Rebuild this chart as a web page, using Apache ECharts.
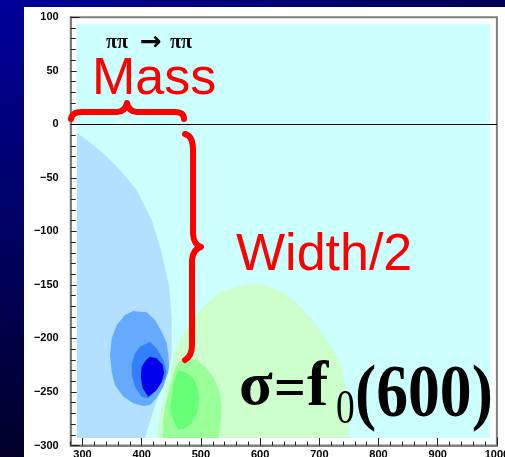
<!DOCTYPE html>
<html><head><meta charset="utf-8">
<script src="https://cdn.jsdelivr.net/npm/echarts@6/dist/echarts.min.js"></script>
<style>html,body{margin:0;padding:0;}#c{width:505px;height:457px;}</style>
</head><body><div id="c"></div>
<script>
// ---- axis ranges ----
const xRange = [280, 1000];
const yRange = [-300, 100];
const yInterval = 50;

// ---- contour regions (x = mass, y = -width/2) ----
const cyanRegion = [[290,-293],[988,-293],[988,94],[290,94]];
const lightBlue = [[290.6,-7.8],[307,-14.6],[334.6,-26.8],[363.3,-42.6],[391.5,-61.3],[416.9,-89.3],[433.7,-120.2],[446.6,-151.6],[450.6,-182.7],[450.6,-213.6],[444.4,-231.3],[435.9,-245.3],[425.8,-257.5],[417.4,-271.5],[410.6,-283.7],[405.5,-293],[290.6,-293]];
const midBlue = [[385.8,-174.3],[408.4,-175.6],[422.4,-182.8],[433.7,-193.7],[442.2,-204.5],[444.9,-215.4],[446.1,-226.4],[444.9,-231],[436.4,-245.1],[428,-252.8],[419.6,-259.1],[414,-262.2],[402.7,-263.1],[385.8,-260.6],[368.9,-254.4],[354.8,-243.5],[349.3,-231],[346.4,-215.4],[349.3,-199.8],[357.7,-187.4],[371.7,-178.1]];
const deepBlue = [[397.1,-207.7],[414,-203],[425.3,-209.2],[436.4,-220.1],[442.2,-231],[439.3,-237.2],[430.9,-243.5],[419.6,-251.2],[411.1,-255.9],[400,-254.4],[388.6,-245.1],[383.1,-234.1],[383.1,-224.8],[388.6,-213.9]];
const darkBlue = [[414,-217],[425.3,-218.5],[435.4,-224.8],[437.6,-232.5],[433.7,-240.4],[425.3,-248.1],[411.1,-254.4],[401.6,-246.6],[398.3,-235.7],[400,-226.4],[407.2,-220.1]];
const lightGreen = [[532,-157],[560,-152],[585,-149],[610,-150],[640,-157],[662,-167],[690,-184],[713,-202],[735,-222],[746,-250],[750,-275],[751,-293],[426.3,-293],[428,-279.2],[433.7,-263.7],[442.2,-248.1],[450.6,-226.4],[456.2,-210.8],[464.7,-201.4],[481.6,-185.8],[504,-170.3]];
const midGreen = [[473.1,-218.5],[492.9,-220.1],[509.8,-227.9],[523.8,-238.8],[532.2,-251.2],[535.1,-263.7],[533.9,-276.2],[529.4,-293],[435.4,-293],[436.4,-276.2],[439.3,-263.7],[444.9,-251.2],[450.6,-238.8],[456.2,-227.9],[464.7,-220.8]];
const brightGreen = [[461.8,-229.5],[476,-232.5],[487.1,-237.2],[495.6,-248.1],[497.3,-257.5],[492.9,-269.9],[484.4,-279.2],[473.1,-283.9],[461.8,-285.5],[453.3,-276.2],[447.7,-265.2],[450.6,-254.4],[453.3,-241.9]];

const regions = [
  [cyanRegion, '#ccffff'],
  [lightBlue, '#b3e0ff'],
  [midBlue, '#66aaff'],
  [deepBlue, '#3380ff'],
  [darkBlue, '#0000ee'],
  [lightGreen, '#ccffcc'],
  [midGreen, '#99ff99'],
  [brightGreen, '#66ff77']
];

function polySeries(pts, color) {
  return {
    type: 'custom', silent: true, clip: true,
    data: pts, encode: {x: 0, y: 1},
    renderItem: function (params, api) {
      if (params.dataIndex !== 0) return;
      const points = pts.map(p => api.coord(p));
      return {type: 'polygon', shape: {points: points}, style: {fill: color}};
    }
  };
}

const red = '#ff0000';
const series = regions.map(r => polySeries(r[0], r[1]));
series.push({
  type: 'line', data: [], silent: true,
  markLine: {silent: true, symbol: 'none', label: {show: false},
    lineStyle: {color: '#000', width: 1, type: 'solid'},
    data: [{yAxis: 0}]}
});
// red braces (annotation, drawn in pixel space)
const bracePaths = [
  'M71 119 Q72 112 82 112 L117 112 Q125 112 127 103 Q129 112 137 112 L175 112 Q184 112 184 119',
  'M185 134 Q193 136 193 150 L193 234 Q194 245 201 247 Q193 249 192 260 L192 345 Q192 356 185 360'
];
series.push({
  type: 'custom', silent: true, clip: false, z: 5,
  data: [[0, 0]],
  renderItem: function () {
    return {type: 'group', children: bracePaths.map(d => ({
      type: 'path', shape: {pathData: d},
      style: {fill: 'none', stroke: red, lineWidth: 6, lineCap: 'round', lineJoin: 'round'}
    }))};
  }
});

const chart = echarts.init(document.getElementById('c'), null, {renderer: 'canvas'});
const lblFont = {fontFamily: 'Liberation Sans, Arial, sans-serif', fontWeight: 'bold', fontSize: 11, color: '#000'};
chart.setOption({
  animation: false,
  backgroundColor: {type: 'linear', x: 0, y: 0, x2: 250, y2: 457, global: true,
    colorStops: [{offset: 0, color: '#00009c'}, {offset: 1, color: '#000008'}]},
  grid: {left: 70.7, top: 17.3, right: 8.1, bottom: 11.5, show: true, backgroundColor: '#fff',
    borderColor: '#808080', borderWidth: 2, containLabel: false, outerBoundsMode: 'none'},
  xAxis: [
    {type: 'value', min: xRange[0], max: xRange[1], splitNumber: 7, position: 'bottom',
      axisLine: {show: true, onZero: false, lineStyle: {color: '#808080', width: 2}},
      axisTick: {inside: true, length: 8, lineStyle: {color: '#222', width: 1}},
      axisLabel: Object.assign({showMinLabel: false, margin: 4, formatter: v => String(v)}, lblFont),
      splitLine: {show: false}},
    {type: 'value', min: xRange[0], max: xRange[1], interval: 20, position: 'bottom',
      axisLine: {show: false, onZero: false},
      axisTick: {inside: true, length: 4, lineStyle: {color: '#222', width: 1}},
      axisLabel: {show: false}, splitLine: {show: false}}
  ],
  yAxis: {type: 'value', min: yRange[0], max: yRange[1], interval: yInterval,
    axisLine: {show: true, onZero: false, lineStyle: {color: '#808080', width: 2}},
    axisTick: {inside: true, length: 9, lineStyle: {color: '#222', width: 1}},
    minorTick: {show: true, splitNumber: 5, length: 5, lineStyle: {color: '#222', width: 1}},
    axisLabel: Object.assign({margin: 12, formatter: v => v < 0 ? '\u2212' + (-v) : String(v)}, lblFont),
    splitLine: {show: false}},
  series: series,
  graphic: [
    {type: 'rect', z: -100, shape: {x: 24, y: 7, width: 481, height: 450}, style: {fill: '#fff'}},
    {type: 'text', z: 100, x: 106, y: 43, style: {text: 'ππ', font: 'bold 20px "Liberation Serif", serif', fill: '#000', verticalAlign: 'middle', align: 'left'}},
    {type: 'text', z: 100, x: 151, y: 43, style: {text: '→', font: 'bold 26px "DejaVu Sans", sans-serif', fill: '#000', verticalAlign: 'middle', align: 'center'}},
    {type: 'text', z: 100, x: 170, y: 43, style: {text: 'ππ', font: 'bold 20px "Liberation Serif", serif', fill: '#000', verticalAlign: 'middle', align: 'left'}},
    {type: 'text', z: 100, x: 92, y: 80, style: {text: 'Mass', font: '52px "Liberation Sans", Arial, sans-serif', fill: red, verticalAlign: 'middle', align: 'left'}},
    {type: 'text', z: 100, x: 236, y: 256, style: {text: 'Width/2', font: '52px "Liberation Sans", Arial, sans-serif', fill: red, verticalAlign: 'middle', align: 'left'}},
    {type: 'text', z: 100, x: 239, y: 388, style: {text: 'σ', font: 'bold 62px "Liberation Serif", serif', fill: '#000', verticalAlign: 'middle', align: 'left'}},
    {type: 'text', z: 100, x: 274, y: 392, style: {text: '=', font: 'bold 56px "Liberation Serif", serif', fill: '#000', verticalAlign: 'middle', align: 'left'}},
    {type: 'text', z: 100, x: 307, y: 388, style: {text: 'f', font: 'bold 64px "Liberation Serif", serif', fill: '#000', verticalAlign: 'middle', align: 'left'}},
    {type: 'text', z: 100, x: 336, y: 410, scaleX: 0.78, style: {text: '0', font: '48px "Liberation Serif", serif', fill: '#000', verticalAlign: 'middle', align: 'left'}},
    {type: 'text', z: 100, x: 355, y: 397, scaleX: 0.86, style: {text: '(600)', font: 'bold 74px "Liberation Serif", serif', fill: '#000', verticalAlign: 'middle', align: 'left'}}
  ]
});
</script>
</body></html>
